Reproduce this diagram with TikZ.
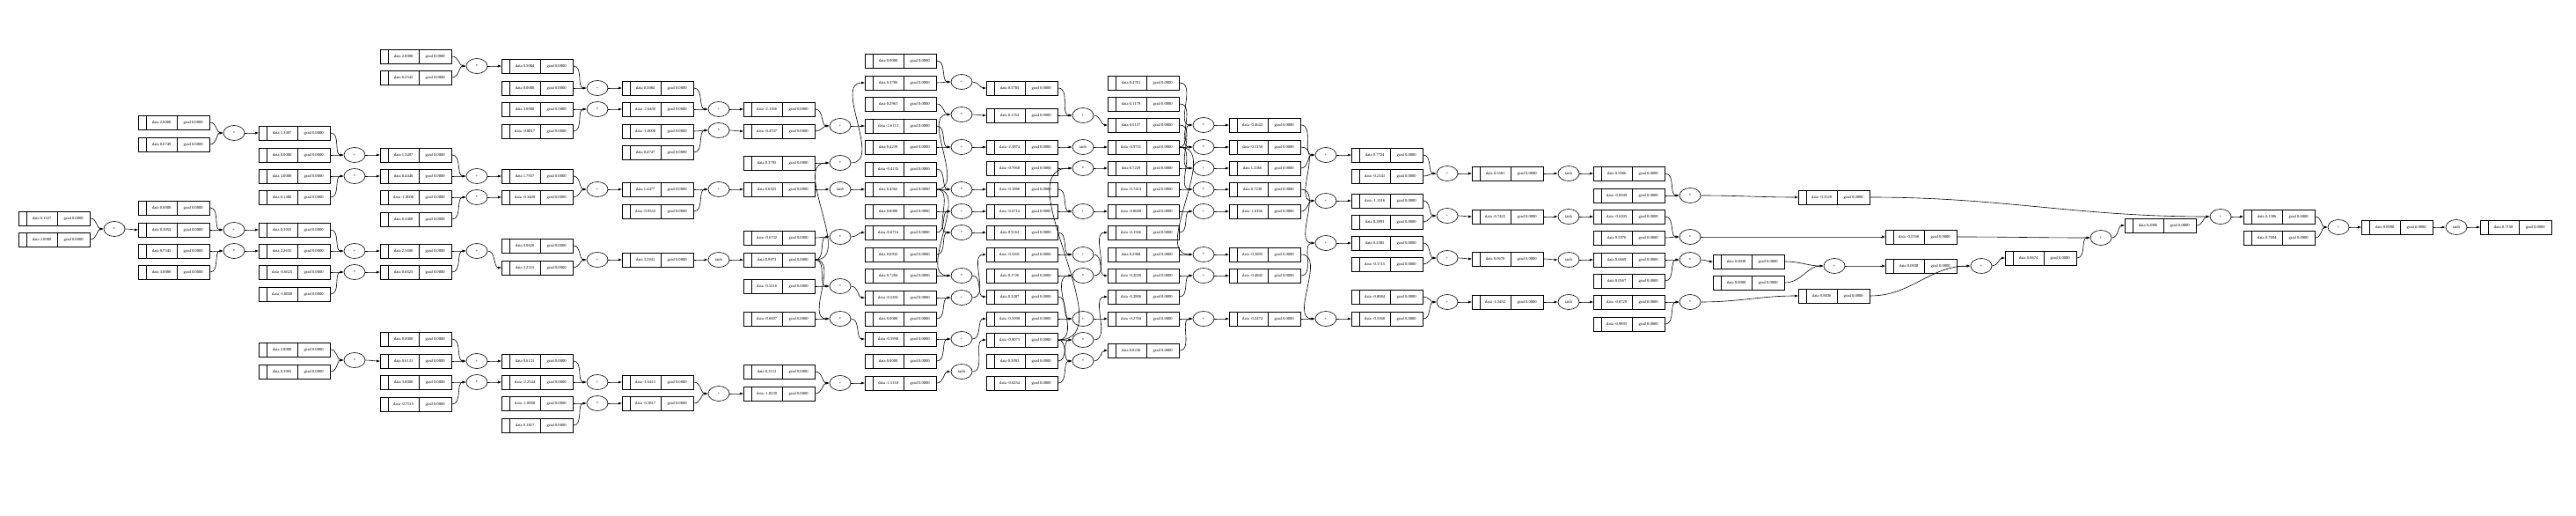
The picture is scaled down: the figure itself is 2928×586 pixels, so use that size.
\documentclass[tikz,border=0pt]{standalone}
\usepackage{fontspec}
\setmainfont{Liberation Serif}
\usetikzlibrary{shapes.geometric,arrows.meta}

\tikzset{
  valbox/.style={draw, minimum width=81pt, minimum height=16pt, inner sep=0pt, line width=0.6pt},
  cellline/.style={line width=0.6pt},
  celltext/.style={inner sep=0pt, font=\fontsize{4.6}{5}\selectfont},
  opnode/.style={ellipse, draw, minimum width=24pt, minimum height=17pt, inner sep=0pt, line width=0.6pt, font=\fontsize{4.6}{5}\selectfont},
  wire/.style={-{Latex[length=4pt,width=3pt]}, line width=0.6pt}
}

% one value record: name, x, y, data
\newcommand{\valnode}[4]{%
  \node[valbox] (#1) at (#2,#3) {};
  \draw[cellline] ([xshift=9pt]#1.north west) -- ([xshift=9pt]#1.south west);
  \draw[cellline] ([xshift=44pt]#1.north west) -- ([xshift=44pt]#1.south west);
  \node[celltext] at ([xshift=26.5pt]#1.west) {data #4};
  \node[celltext] at ([xshift=62.5pt]#1.west) {grad 0.0000};}
% one operation: name, x, y, label
\newcommand{\opnode}[4]{\node[opnode] (#1) at (#2,#3) {#4};}

\begin{document}
\begin{tikzpicture}[x=1pt,y=-1pt]
  \useasboundingbox (0,0) rectangle (2928,586);

  % inputs
  \valnode{xa}{62}{248}{0.1527}
  \valnode{xb}{62}{272}{2.0000}
  \opnode{m1}{130}{260}{*}

  % column 2
  \valnode{c2a}{198}{139}{2.0000}
  \valnode{c2b}{198}{164}{0.6749}
  \valnode{c2c}{198}{236}{0.0000}
  \valnode{c2d}{198}{261}{0.3055}
  \valnode{c2e}{198}{285}{0.7545}
  \valnode{c2f}{198}{309}{3.0000}
  \opnode{o2a}{266}{151}{*}
  \opnode{o2b}{266}{261}{+}
  \opnode{o2c}{266}{285}{*}

  % column 3
  \valnode{c3a}{335}{151}{1.3497}
  \valnode{c3b}{335}{176}{0.0000}
  \valnode{c3c}{335}{200}{3.0000}
  \valnode{c3d}{335}{224}{0.1480}
  \valnode{c3e}{335}{261}{0.3055}
  \valnode{c3f}{335}{285}{2.2635}
  \valnode{c3g}{335}{309}{-0.6625}
  \valnode{c3h}{335}{334}{-1.0000}
  \valnode{c3i}{335}{397}{2.0000}
  \valnode{c3j}{335}{422}{0.3065}
  \opnode{o3a}{403}{176}{+}
  \opnode{o3b}{403}{200}{*}
  \opnode{o3c}{403}{285}{+}
  \opnode{o3d}{403}{309}{*}
  \opnode{o3e}{403}{409}{*}

  % column 4
  \valnode{c4a}{473}{64}{2.0000}
  \valnode{c4b}{473}{88}{0.2542}
  \valnode{c4c}{473}{176}{1.3497}
  \valnode{c4d}{473}{200}{0.4440}
  \valnode{c4e}{473}{224}{-1.0000}
  \valnode{c4f}{473}{249}{0.3460}
  \valnode{c4g}{473}{285}{2.5690}
  \valnode{c4h}{473}{309}{0.6625}
  \valnode{c4i}{473}{385}{0.0000}
  \valnode{c4j}{473}{410}{0.6131}
  \valnode{c4k}{473}{434}{3.0000}
  \valnode{c4l}{473}{459}{-0.7515}
  \opnode{o4a}{542}{75}{*}
  \opnode{o4b}{542}{200}{+}
  \opnode{o4c}{542}{224}{*}
  \opnode{o4d}{542}{285}{+}
  \opnode{o4e}{542}{410}{+}
  \opnode{o4f}{542}{434}{*}

  % column 5
  \valnode{c5a}{611}{75}{0.5084}
  \valnode{c5b}{611}{100}{0.0000}
  \valnode{c5c}{611}{124}{3.0000}
  \valnode{c5d}{611}{149}{-0.8817}
  \valnode{c5e}{611}{200}{1.7937}
  \valnode{c5f}{611}{224}{-0.3460}
  \valnode{c5g}{611}{279}{0.0626}
  \valnode{c5h}{611}{304}{3.2315}
  \valnode{c5i}{611}{410}{0.6131}
  \valnode{c5j}{611}{434}{-2.2544}
  \valnode{c5k}{611}{458}{-1.0000}
  \valnode{c5l}{611}{483}{0.1817}
  \opnode{o5a}{679}{100}{+}
  \opnode{o5b}{679}{124}{*}
  \opnode{o5c}{679}{215}{+}
  \opnode{o5d}{679}{295}{+}
  \opnode{o5e}{679}{434}{+}
  \opnode{o5f}{679}{458}{*}

  % column 6
  \valnode{c6a}{748}{100}{0.5084}
  \valnode{c6b}{748}{124}{-2.6450}
  \valnode{c6c}{748}{149}{-1.0000}
  \valnode{c6d}{748}{173}{0.4747}
  \valnode{c6e}{748}{215}{1.4477}
  \valnode{c6f}{748}{240}{-0.9552}
  \valnode{c6g}{748}{295}{3.2941}
  \valnode{c6h}{748}{434}{-1.6413}
  \valnode{c6i}{748}{458}{-0.1817}
  \opnode{o6a}{817}{124}{+}
  \opnode{o6b}{817}{148}{*}
  \opnode{o6c}{817}{215}{+}
  \opnode{o6d}{817}{295}{tanh}
  \opnode{o6e}{817}{447}{+}

  % column 7
  \valnode{c7a}{886}{124}{-2.1366}
  \valnode{c7b}{886}{149}{-0.4747}
  \valnode{c7c}{886}{185}{0.3795}
  \valnode{c7d}{886}{215}{0.6925}
  \valnode{c7e}{886}{270}{-0.6732}
  \valnode{c7f}{886}{295}{0.9973}
  \valnode{c7g}{886}{325}{-0.5216}
  \valnode{c7h}{886}{362}{-0.6007}
  \valnode{c7i}{886}{422}{0.3112}
  \valnode{c7j}{886}{447}{-1.8230}
  \opnode{o7a}{955}{143}{+}
  \opnode{o7b}{955}{185}{*}
  \opnode{o7c}{955}{215}{tanh}
  \opnode{o7d}{955}{269}{*}
  \opnode{o7e}{955}{325}{*}
  \opnode{o7f}{955}{362}{*}
  \opnode{o7g}{955}{435}{+}

  % column 8
  \valnode{c8a}{1024}{69}{0.0000}
  \valnode{c8b}{1024}{94}{0.3785}
  \valnode{c8c}{1024}{118}{0.2963}
  \valnode{c8d}{1024}{143}{-2.6113}
  \valnode{c8e}{1024}{167}{0.4239}
  \valnode{c8f}{1024}{192}{-0.4135}
  \valnode{c8g}{1024}{215}{0.4562}
  \valnode{c8h}{1024}{240}{0.0000}
  \valnode{c8i}{1024}{264}{-0.6714}
  \valnode{c8j}{1024}{289}{0.6932}
  \valnode{c8k}{1024}{313}{0.7204}
  \valnode{c8l}{1024}{338}{-0.5201}
  \valnode{c8m}{1024}{362}{0.0000}
  \valnode{c8n}{1024}{385}{-0.5990}
  \valnode{c8o}{1024}{410}{0.0000}
  \valnode{c8p}{1024}{435}{-1.5118}
  \opnode{o8a}{1093}{93}{+}
  \opnode{o8b}{1093}{130}{*}
  \opnode{o8c}{1093}{167}{+}
  \opnode{o8d}{1093}{215}{*}
  \opnode{o8e}{1093}{240}{+}
  \opnode{o8f}{1093}{264}{*}
  \opnode{o8g}{1093}{313}{*}
  \opnode{o8h}{1093}{338}{+}
  \opnode{o8i}{1093}{385}{+}
  \opnode{o8j}{1093}{422}{tanh}

  % column 9
  \valnode{c9a}{1162}{100}{0.3785}
  \valnode{c9b}{1162}{131}{0.1352}
  \valnode{c9c}{1162}{167}{-2.1874}
  \valnode{c9d}{1162}{191}{-0.7968}
  \valnode{c9e}{1162}{215}{-0.1886}
  \valnode{c9f}{1162}{240}{-0.6714}
  \valnode{c9g}{1162}{264}{0.3162}
  \valnode{c9h}{1162}{289}{-0.5201}
  \valnode{c9i}{1162}{313}{0.1726}
  \valnode{c9j}{1162}{337}{0.3287}
  \valnode{c9k}{1162}{362}{-0.5990}
  \valnode{c9l}{1162}{386}{-0.9073}
  \valnode{c9m}{1162}{410}{0.3093}
  \valnode{c9n}{1162}{435}{-0.0254}
  \opnode{o9a}{1231}{131}{+}
  \opnode{o9b}{1231}{167}{tanh}
  \opnode{o9c}{1231}{191}{*}
  \opnode{o9d}{1231}{240}{+}
  \opnode{o9e}{1231}{289}{+}
  \opnode{o9f}{1231}{313}{*}
  \opnode{o9g}{1231}{362}{+}
  \opnode{o9h}{1231}{386}{*}
  \opnode{o9i}{1231}{410}{*}

  % column 10
  \valnode{c10a}{1300}{94}{0.4761}
  \valnode{c10b}{1300}{118}{0.1179}
  \valnode{c10c}{1300}{142}{0.5137}
  \valnode{c10d}{1300}{167}{-0.9751}
  \valnode{c10e}{1300}{191}{0.7229}
  \valnode{c10f}{1300}{215}{-0.7414}
  \valnode{c10g}{1300}{240}{-0.8600}
  \valnode{c10h}{1300}{264}{-0.1566}
  \valnode{c10i}{1300}{289}{0.2968}
  \valnode{c10j}{1300}{313}{-0.2039}
  \valnode{c10k}{1300}{337}{-0.2806}
  \valnode{c10l}{1300}{362}{-0.2704}
  \valnode{c10m}{1300}{398}{0.0230}
  \opnode{p10a}{1368}{142}{*}
  \opnode{p10b}{1368}{167}{*}
  \opnode{p10c}{1368}{191}{+}
  \opnode{p10d}{1368}{215}{*}
  \opnode{p10e}{1368}{240}{+}
  \opnode{p10f}{1368}{289}{*}
  \opnode{p10g}{1368}{313}{+}
  \opnode{p10h}{1368}{362}{+}

  % column 11
  \valnode{c11a}{1438}{142}{-0.4643}
  \valnode{c11b}{1438}{167}{-0.1150}
  \valnode{c11c}{1438}{191}{1.2366}
  \valnode{c11d}{1438}{215}{0.7230}
  \valnode{c11e}{1438}{240}{-1.0166}
  \valnode{c11f}{1438}{289}{-0.2895}
  \valnode{c11g}{1438}{313}{-0.4845}
  \valnode{c11h}{1438}{362}{-0.2474}
  \opnode{p11a}{1507}{176}{+}
  \opnode{p11b}{1507}{228}{+}
  \opnode{p11c}{1507}{276}{+}
  \opnode{p11d}{1507}{362}{+}

  % column 12
  \valnode{c12a}{1577}{176}{0.7724}
  \valnode{c12b}{1577}{200}{-0.2143}
  \valnode{c12c}{1577}{228}{-1.1316}
  \valnode{c12d}{1577}{252}{0.3893}
  \valnode{c12e}{1577}{276}{0.2385}
  \valnode{c12f}{1577}{300}{-0.1715}
  \valnode{c12g}{1577}{337}{-0.8084}
  \valnode{c12h}{1577}{362}{-0.5368}
  \opnode{p12a}{1645}{197}{+}
  \opnode{p12b}{1645}{245}{+}
  \opnode{p12c}{1645}{293}{+}
  \opnode{p12d}{1645}{343}{+}

  % column 13
  \valnode{c13a}{1714}{197}{0.5581}
  \valnode{c13b}{1714}{246}{-0.7422}
  \valnode{c13c}{1714}{294}{0.0670}
  \valnode{c13d}{1714}{343}{-1.3452}
  \opnode{t13a}{1783}{197}{tanh}
  \opnode{t13b}{1783}{246}{tanh}
  \opnode{t13c}{1783}{295}{tanh}
  \opnode{t13d}{1783}{343}{tanh}

  % column 14
  \valnode{c14a}{1852}{197}{0.5066}
  \valnode{c14b}{1852}{222}{-0.6949}
  \valnode{c14c}{1852}{246}{-0.6305}
  \valnode{c14d}{1852}{270}{0.5976}
  \valnode{c14e}{1852}{295}{0.0669}
  \valnode{c14f}{1852}{319}{0.0567}
  \valnode{c14g}{1852}{343}{-0.8729}
  \valnode{c14h}{1852}{368}{-0.9893}
  \opnode{p14a}{1921}{222}{*}
  \opnode{p14b}{1921}{269}{*}
  \opnode{p14c}{1921}{295}{*}
  \opnode{p14d}{1921}{343}{*}

  % output sum
  \valnode{c15a}{1988}{297}{0.0038}
  \valnode{c15b}{1988}{321}{0.0000}
  \valnode{q1}{2085}{224}{-0.3520}
  \valnode{q2}{2085}{336}{0.8836}
  \opnode{p15}{2085}{302}{+}
  \valnode{q3}{2184}{269}{-0.5768}
  \valnode{q4}{2184}{302}{0.0038}
  \opnode{p16}{2252}{302}{+}
  \valnode{r1}{2320}{293}{0.8674}
  \opnode{p17}{2388}{270}{+}
  \valnode{r2}{2456}{256}{0.4906}
  \opnode{p18}{2524}{246}{+}
  \valnode{r3}{2591}{246}{0.1386}
  \valnode{r4}{2591}{270}{0.7604}
  \opnode{p19}{2658}{258}{+}
  \valnode{r5}{2725}{258}{0.8990}
  \opnode{p20}{2792}{258}{tanh}
  \valnode{r6}{2860}{258}{0.7158}

  % value -> operation
  \foreach \a/\o in {xa/m1,xb/m1,
      c2a/o2a,c2b/o2a,c2c/o2b,c2d/o2b,c2e/o2c,c2f/o2c,
      c3a/o3a,c3b/o3a,c3c/o3b,c3d/o3b,c3e/o3c,c3f/o3c,c3g/o3d,c3h/o3d,c3i/o3e,c3j/o3e,
      c4a/o4a,c4b/o4a,c4c/o4b,c4d/o4b,c4e/o4c,c4f/o4c,c4g/o4d,c4h/o4d,c4i/o4e,c4j/o4e,c4k/o4f,c4l/o4f,
      c5a/o5a,c5b/o5a,c5c/o5b,c5d/o5b,c5e/o5c,c5f/o5c,c5g/o5d,c5h/o5d,c5i/o5e,c5j/o5e,c5k/o5f,c5l/o5f,
      c6a/o6a,c6b/o6a,c6c/o6b,c6d/o6b,c6e/o6c,c6f/o6c,c6g/o6d,c6h/o6e,c6i/o6e,
      c7a/o7a,c7b/o7a,c7c/o7b,c7f/o7b,c7d/o7c,c7e/o7d,c7f/o7d,c7g/o7e,c7f/o7e,c7h/o7f,c7f/o7f,c7i/o7g,c7j/o7g,
      c8a/o8a,c8b/o8a,c8c/o8b,c8g/o8b,c8d/o8c,c8e/o8c,c8f/o8d,c8g/o8d,c8h/o8e,c8i/o8e,c8j/o8f,c8g/o8f,
      c8k/o8g,c8g/o8g,c8l/o8h,c8m/o8h,c8n/o8i,c8o/o8i,c8p/o8j,
      c9a/o9a,c9b/o9a,c9c/o9b,c9d/o9c,c9l/o9c,c9e/o9d,c9f/o9d,c9g/o9e,c9h/o9e,c9i/o9f,c9l/o9f,
      c9j/o9g,c9k/o9g,c9l/o9h,c9m/o9h,c9l/o9i,c9n/o9i,
      c10a/p10a,c10d/p10a,c10b/p10b,c10d/p10b,c10c/p10c,c10e/p10c,c10f/p10d,c10d/p10d,
      c10g/p10e,c10h/p10e,c10i/p10f,c10d/p10f,c10j/p10g,c10k/p10g,c10l/p10h,c10m/p10h,
      c11a/p11a,c11c/p11a,c11b/p11b,c11e/p11b,c11d/p11c,c11g/p11c,c11f/p11d,c11h/p11d,
      c12a/p12a,c12b/p12a,c12c/p12b,c12d/p12b,c12e/p12c,c12f/p12c,c12g/p12d,c12h/p12d,
      c13a/t13a,c13b/t13b,c13c/t13c,c13d/t13d,
      c14a/p14a,c14b/p14a,c14c/p14b,c14d/p14b,c14e/p14c,c14f/p14c,c14g/p14d,c14h/p14d,
      c15a/p15,c15b/p15,q4/p16,q2/p16,q3/p17,r1/p17,q1/p18,r2/p18,r3/p19,r4/p19,r5/p20}
    \draw[wire] (\a.east) to[out=0,in=180] (\o);

  % operation -> value
  \foreach \o/\b in {m1/c2d,o2a/c3a,o2b/c3e,o2c/c3f,
      o3a/c4c,o3b/c4d,o3c/c4g,o3d/c4h,o3e/c4j,
      o4a/c5a,o4b/c5e,o4c/c5f,o4d/c5h,o4e/c5i,o4f/c5j,
      o5a/c6a,o5b/c6b,o5c/c6e,o5d/c6g,o5e/c6h,o5f/c6i,
      o6a/c7a,o6b/c7b,o6c/c7d,o6d/c7f,o6e/c7j,
      o7a/c8d,o7b/c8b,o7c/c8g,o7d/c8i,o7e/c8l,o7f/c8n,o7g/c8p,
      o8a/c9a,o8b/c9b,o8c/c9c,o8d/c9e,o8e/c9f,o8f/c9g,o8g/c9j,o8h/c9h,o8i/c9k,o8j/c9l,
      o9a/c10c,o9b/c10d,o9c/c10e,o9d/c10g,o9e/c10j,o9f/c10h,o9g/c10l,o9h/c10k,o9i/c10m,
      p10a/c11a,p10b/c11b,p10c/c11c,p10d/c11d,p10e/c11e,p10f/c11f,p10g/c11g,p10h/c11h,
      p11a/c12a,p11b/c12c,p11c/c12e,p11d/c12h,
      p12a/c13a,p12b/c13b,p12c/c13c,p12d/c13d,
      t13a/c14a,t13b/c14c,t13c/c14e,t13d/c14g,
      p14a/q1,p14b/q3,p14c/c15a,p14d/q2,
      p15/q4,p16/r1,p17/r2,p18/r3,p19/r5,p20/r6}
    \draw[wire] (\o) to[out=0,in=180] (\b.west);
\end{tikzpicture}
\end{document}
